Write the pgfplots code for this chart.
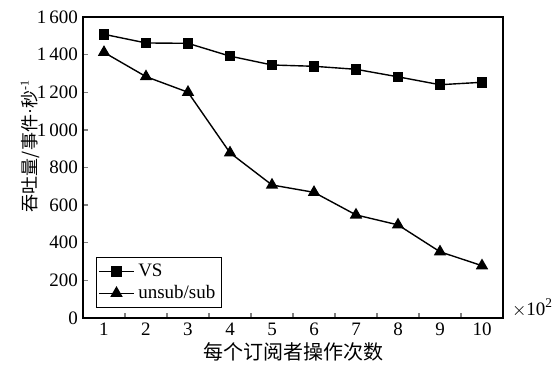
\documentclass[border=0pt]{standalone}
\usepackage{pgfplots}
\pgfplotsset{compat=1.18}
\usepackage{fontspec}
\setmainfont{Liberation Serif}
\newfontfamily\cjk{Noto Sans CJK SC}
\begin{document}
\begin{tikzpicture}
\path[use as bounding box] (-41.5pt,-26pt) rectangle (236.5pt,159pt);
\begin{axis}[
  at={(0,0)}, anchor=south west,
  scale only axis, width=210pt, height=150.5pt,
  xmin=0.5, xmax=10.5, ymin=0, ymax=1600,
  axis line style={line width=0.7pt},
  xtick={1,2,3,4,5,6,7,8,9,10},
  xticklabels={1,2,3,4,5,6,7,8,9,10},
  major x tick style={draw=none},
  minor xtick={1.5,2.5,3.5,4.5,5.5,6.5,7.5,8.5,9.5},
  minor tick length=2.5pt,
  minor x tick style={line width=0.7pt},
  ytick={0,200,400,600,800,1000,1200,1400,1600},
  yticklabels={0,200,400,600,800,{1\,000},{1\,200},{1\,400},{1\,600}},
  major tick length=2.5pt,
  major y tick style={line width=0.7pt},
  tick align=inside, xtick pos=bottom, ytick pos=left,
  tick label style={font=\fontsize{9.5}{10}\selectfont},
  xticklabel style={yshift=1pt},
  yticklabel style={xshift=1pt},
  legend style={at={(0.031,0.033)}, anchor=south west, draw=black, line width=0.7pt,
    font=\fontsize{9.5}{10.5}\selectfont, inner sep=1pt, row sep=-1pt,
    legend cell align=left},
  legend image post style={line width=0.7pt},
]
\addplot[black, line width=0.7pt, mark=square*, mark size=2.3pt] coordinates {
 (1,1508) (2,1462) (3,1460) (4,1392) (5,1345) (6,1338) (7,1322) (8,1282) (9,1240) (10,1253)};
\addlegendentry{VS}
\addplot[black, line width=0.7pt, mark=triangle*, mark size=2.9pt] coordinates {
 (1,1412) (2,1283) (3,1200) (4,878) (5,707) (6,668) (7,548) (8,495) (9,352) (10,278)};
\addlegendentry{unsub/sub}
\end{axis}
\node[anchor=west, font=\fontsize{9.5}{10}\selectfont] at (211pt,5pt) {$\times$10\textsuperscript{2}};
\node[font=\fontsize{10}{11}\selectfont\cjk] at (105pt,-17pt) {每个订阅者操作次数};
\node[rotate=90, font=\fontsize{9}{10}\selectfont] at (-26.5pt,86pt) {{\cjk 吞吐量/事件}·{\cjk 秒}\textsuperscript{-1}};
\end{tikzpicture}
\end{document}
